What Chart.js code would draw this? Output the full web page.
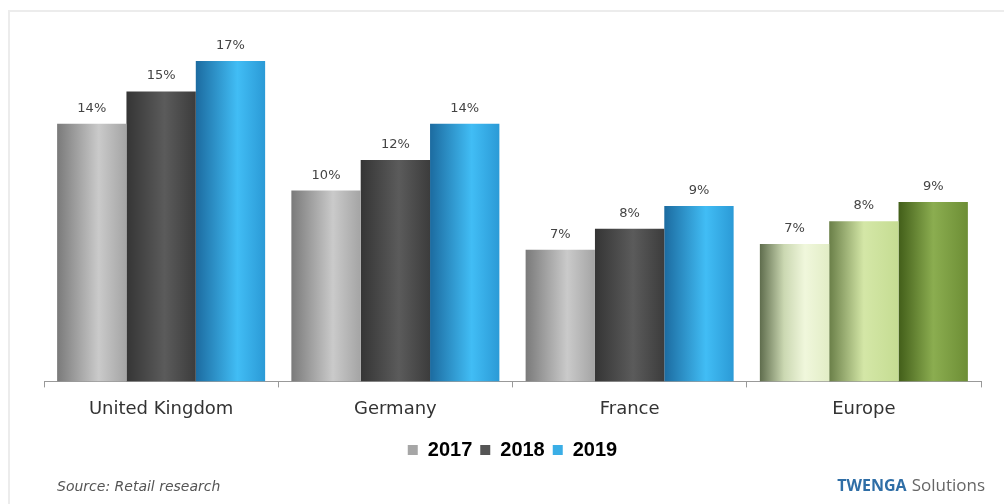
<!DOCTYPE html>
<html>
<head>
<meta charset="utf-8">
<script src="https://cdn.jsdelivr.net/npm/chart.js@4.4.0/dist/chart.umd.min.js"></script>
<style>
  html, body { margin: 0; padding: 0; background: #fff; }
  #wrap { position: relative; width: 1004px; height: 504px; overflow: hidden; }
  #frame { position: absolute; left: 8px; top: 10px; width: 1020px; height: 520px; border: 2px solid #ececec; box-sizing: border-box; }
  canvas { position: absolute; left: 0; top: 0; }
</style>
</head>
<body>
<div id="wrap">
  <div id="frame"></div>
  <canvas id="chart" width="1004" height="504"></canvas>
</div>
<script>
  var categories = ['United Kingdom', 'Germany', 'France', 'Europe'];
  var years = ['2017', '2018', '2019'];
  var values2017 = [13.5, 10.0, 6.9, 7.2];
  var values2018 = [15.2, 11.6, 8.0, 8.4];
  var values2019 = [16.8, 13.5, 9.2, 9.4];
  var labels2017 = ['14%', '10%', '7%', '7%'];
  var labels2018 = ['15%', '12%', '8%', '8%'];
  var labels2019 = ['17%', '14%', '9%', '9%'];
  var legendColors = ['#a6a6a6', '#555555', '#3aaee6'];

  // cylinder-ish gradients, Europe gets the green ones
  var seriesStops = [
    [[0, '#7a7a7a'], [0.6, '#cacaca'], [1, '#a4a4a4']],
    [[0, '#353535'], [0.55, '#5b5b5b'], [1, '#3c3c3c']],
    [[0, '#1c6ba0'], [0.6, '#41bdf5'], [1, '#2b9ad6']]
  ];
  var europeStops = [
    [[0, '#5f6d4d'], [0.35, '#cbd8b2'], [0.65, '#f0f7dc'], [1, '#e2edc6']],
    [[0, '#6a7f48'], [0.5, '#d4e7a7'], [1, '#c5dc92']],
    [[0, '#425e19'], [0.5, '#8bad50'], [1, '#6d8e35']]
  ];
  var CAT_PCT = 0.888;

  function barFill(ctx) {
    var chart = ctx.chart;
    var stops = (ctx.dataIndex === 3 ? europeStops : seriesStops)[ctx.datasetIndex];
    var xs = chart.scales.x;
    if (!xs || !chart.chartArea || ctx.type !== 'data') return stops[1][1];
    var group = xs.width / categories.length * CAT_PCT;
    var bw = group / years.length;
    var left = xs.getPixelForValue(ctx.dataIndex) - group / 2 + ctx.datasetIndex * bw;
    var g = chart.ctx.createLinearGradient(left, 0, left + bw, 0);
    stops.forEach(function (s) { g.addColorStop(s[0], s[1]); });
    return g;
  }

  var valueLabels = {
    id: 'valueLabels',
    afterDatasetsDraw: function (chart) {
      var c = chart.ctx;
      c.save();
      c.font = '13px "DejaVu Sans"';
      c.fillStyle = '#444';
      c.textAlign = 'center';
      c.textBaseline = 'alphabetic';
      chart.data.datasets.forEach(function (ds, i) {
        chart.getDatasetMeta(i).data.forEach(function (bar, j) {
          c.fillText(ds.valueLabels[j], bar.x, bar.y - 12);
        });
      });
      c.restore();
    }
  };

  var footer = {
    id: 'footer',
    afterDraw: function (chart) {
      var c = chart.ctx;
      c.save();
      c.textBaseline = 'middle';
      c.textAlign = 'left';
      c.font = 'italic 14px "DejaVu Sans"';
      c.fillStyle = '#555';
      c.fillText('Source: Retail research', 57, 487);
      c.textAlign = 'right';
      c.font = '17px "Open Sans"';
      c.fillStyle = '#666';
      c.fillText('Solutions', 985, 486);
      var w = c.measureText('Solutions').width;
      c.font = 'bold 16px "Open Sans"';
      c.fillStyle = '#2f6ea6';
      c.fillText('TWENGA', 985 - w - 5, 486);
      c.restore();
    }
  };

  new Chart(document.getElementById('chart'), {
    type: 'bar',
    data: {
      labels: categories,
      datasets: [
        { label: years[0], data: values2017, valueLabels: labels2017, backgroundColor: barFill },
        { label: years[1], data: values2018, valueLabels: labels2018, backgroundColor: barFill },
        { label: years[2], data: values2019, valueLabels: labels2019, backgroundColor: barFill }
      ]
    },
    options: {
      responsive: false,
      animation: false,
      events: [],
      layout: { padding: { left: 44, right: 23, top: 38, bottom: 34 } },
      datasets: { bar: { categoryPercentage: CAT_PCT, barPercentage: 1, borderWidth: 0 } },
      scales: {
        x: {
          afterFit: function (scale) { scale.height += 1; },
          grid: { display: true, drawOnChartArea: false, color: '#999', tickLength: 6, offset: true },
          border: { display: true, color: '#999', width: 1 },
          ticks: { color: '#333', font: { family: 'DejaVu Sans', size: 18 }, padding: 11 }
        },
        y: { display: false, min: 0, max: 18 }
      },
      plugins: {
        tooltip: { enabled: false },
        legend: {
          position: 'bottom',
          labels: {
            boxWidth: 10,
            boxHeight: 10,
            padding: 8,
            color: '#1a1a1a',
            font: { family: 'Liberation Sans', size: 20, weight: 'bold' },
            generateLabels: function (chart) {
              return chart.data.datasets.map(function (ds, i) {
                return { text: ds.label, fillStyle: legendColors[i], strokeStyle: legendColors[i], lineWidth: 0, datasetIndex: i };
              });
            }
          }
        }
      }
    },
    plugins: [valueLabels, footer]
  });
</script>
</body>
</html>
